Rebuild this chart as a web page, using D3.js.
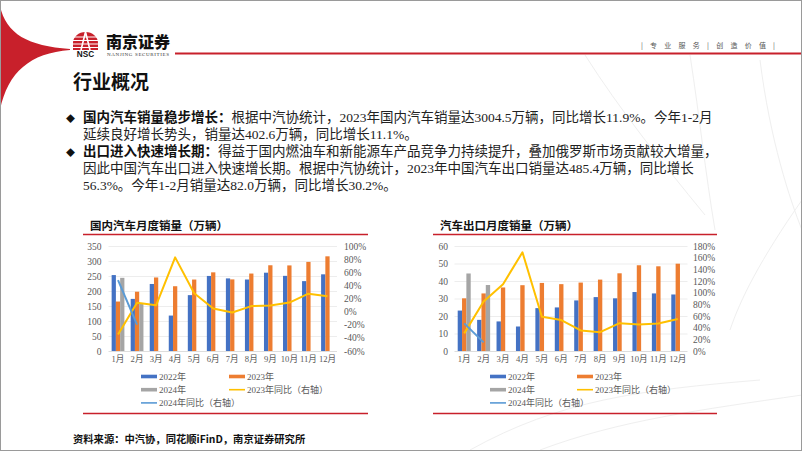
<!DOCTYPE html>
<html><head><meta charset="utf-8">
<script src="https://cdn.jsdelivr.net/npm/d3@7"></script>
<style>body{margin:0;background:#fff}svg{display:block}</style>
</head><body><svg id="c" width="802" height="451"></svg>
<script>
// ---------- data ----------
const months = ["1月","2月","3月","4月","5月","6月","7月","8月","9月","10月","11月","12月"];
const domSales2022 = [253.1,173.7,223.4,118.1,186.2,250.2,242.0,238.3,261.0,250.5,232.9,255.6];
const domSales2023 = [164.9,197.6,245.1,215.9,238.2,262.2,238.7,258.2,285.8,285.3,297.0,315.6];
const domSales2024 = [243.9,158.4];
const domYoY2023 = [-34.8,13.5,9.7,82.7,27.9,4.8,-1.4,8.4,9.5,13.8,27.4,23.5];
const domYoY2024 = [47.9,-19.9];
const expSales2022 = [23.1,17.8,16.9,14.0,24.5,24.9,28.9,30.8,30.1,33.7,32.9,32.3];
const expSales2023 = [30.1,32.9,36.3,37.6,38.9,38.2,39.1,40.8,44.4,49.0,48.4,49.9];
const expSales2024 = [44.3,37.7];
const expYoY2023 = [30.2,84.8,114.6,169.2,58.8,53.1,35.3,32.2,47.7,45.5,47.2,54.8];
const expYoY2024 = [47.4,14.8];
const domLeftTicks = [0,50,100,150,200,250,300,350];
const domRightTicks = [-60,-40,-20,0,20,40,60,80,100];
const expLeftTicks = [0,10,20,30,40,50,60];
const expRightTicks = [0,20,40,60,80,100,120,140,160,180];
const legendLabels = ["2022年","2023年","2024年","2023年同比（右轴）","2024年同比（右轴）"];

const RED = "#C8202B";
const C22 = "#4472C4", C23 = "#ED7D31", C24 = "#A5A5A5", CY = "#FFC000", CB = "#5B9BD5";
const FONT = "'Liberation Serif','Noto Sans CJK SC',serif";
const CJK = "'Noto Sans CJK SC','Liberation Serif',sans-serif";

const svg = d3.select("#c");

// ---------- background decor ----------
const deco = svg.append("g").attr("fill","none").attr("stroke","#efefef").attr("stroke-width",1);
deco.append("path").attr("d","M585,55 C620,110 660,160 705,215");
deco.append("path").attr("d","M690,55 C700,120 705,170 715,230");
deco.append("path").attr("d","M760,60 C770,140 790,200 802,230");
deco.append("path").attr("d","M470,450 C560,400 640,390 760,380");
deco.append("path").attr("d","M540,450 C620,420 700,410 802,395");
deco.append("path").attr("d","M802,200 C760,260 740,300 730,330");

// ---------- header ----------
svg.append("path").attr("fill",RED)
  .attr("d","M0,6 C6,34 28,46 70,49 L70,50 C30,53 8,72 0,110 Z");
svg.append("line").attr("x1",175).attr("x2",802).attr("y1",53.5).attr("y2",53.5)
  .attr("stroke",RED).attr("stroke-width",2.2);
const logo = svg.append("g");
logo.append("path").attr("fill",RED).attr("d","M73,50 L73,43 A12.5,11 0 0 1 98,43 L98,50 Z");
[37,40.5,44,47.5].forEach(yy=>logo.append("line").attr("x1",72).attr("x2",99).attr("y1",yy).attr("y2",yy).attr("stroke","#fff").attr("stroke-width",1));
logo.append("path").attr("d","M81,50 C83,42 84.5,36 85.5,32 C86.5,36 88,42 90,50").attr("fill","none").attr("stroke","#fff").attr("stroke-width",1.6);
svg.append("text").attr("x",85.5).attr("y",57).attr("text-anchor","middle")
  .attr("font-family","'Liberation Sans',sans-serif").attr("font-weight",700).attr("font-size",8.2).attr("fill","#111").text("NSC");
svg.append("text").attr("x",106).attr("y",47.5).attr("font-family",CJK).attr("font-weight",900)
  .attr("font-size",16).attr("fill","#111").attr("textLength",64).text("南京证券");
svg.append("text").attr("x",107).attr("y",56).attr("font-family","'Liberation Serif',serif")
  .attr("font-size",5).attr("fill","#333").attr("textLength",62).text("NANJING SECURITIES");
svg.append("text").attr("x",641).attr("y",48).attr("font-family",CJK).attr("font-size",7)
  .attr("fill","#555").attr("textLength",134).attr("lengthAdjust","spacing").text("| 专 业 服 务 | 创 造 价 值 |");

svg.append("text").attr("x",73).attr("y",89).attr("font-family",CJK).attr("font-weight",700)
  .attr("font-size",19).attr("fill","#111").text("行业概况");

// ---------- body text ----------
const lines = [
  {y:122, bullet:true, bold:"国内汽车销量稳步增长：", text:"根据中汽协统计，2023年国内汽车销量达3004.5万辆，同比增长11.9%。今年1-2月"},
  {y:139, text:"延续良好增长势头，销量达402.6万辆，同比增长11.1%。"},
  {y:156, bullet:true, bold:"出口进入快速增长期：", text:"得益于国内燃油车和新能源车产品竞争力持续提升，叠加俄罗斯市场贡献较大增量，"},
  {y:173, text:"因此中国汽车出口进入快速增长期。根据中汽协统计，2023年中国汽车出口销量达485.4万辆，同比增长"},
  {y:190, text:"56.3%。今年1-2月销量达82.0万辆，同比增长30.2%。"}
];
lines.forEach(l=>{
  if(l.bullet) svg.append("text").attr("x",66).attr("y",l.y-0.5).attr("font-family",FONT).attr("font-size",9).attr("fill","#111").text("◆");
  const t = svg.append("text").attr("x",83).attr("y",l.y).attr("font-family",FONT).attr("font-size",13.5).attr("fill","#222");
  if(l.bold) t.append("tspan").attr("font-weight",700).attr("fill","#111").text(l.bold);
  t.append("tspan").text(l.text);
});

// ---------- charts ----------
function drawChart(o){
  const g = svg.append("g");
  const top = 246, bot = 351;
  g.append("text").attr("x",o.titleX).attr("y",230).attr("font-family",CJK).attr("font-weight",700)
    .attr("font-size",11.5).attr("fill","#111").text(o.title);
  g.append("line").attr("x1",o.ruleX0).attr("x2",o.ruleX1).attr("y1",234.5).attr("y2",234.5).attr("stroke",RED).attr("stroke-width",1.6);
  g.append("line").attr("x1",o.ruleX0).attr("x2",o.ruleX1).attr("y1",413.5).attr("y2",413.5).attr("stroke",RED).attr("stroke-width",1.6);

  const x = d3.scaleBand().domain(months).range([o.x0,o.x1]).paddingInner(0.33).paddingOuter(0.165);
  const xs = d3.scaleBand().domain(["s22","s23","s24"]).range([0,x.bandwidth()]);
  const yL = d3.scaleLinear().domain([o.lTicks[0],o.lTicks[o.lTicks.length-1]]).range([bot,top]);
  const yR = d3.scaleLinear().domain([o.rTicks[0],o.rTicks[o.rTicks.length-1]]).range([bot,top]);

  const ga = g.append("g").attr("transform",`translate(${o.x0},0)`)
    .call(d3.axisLeft(yL).tickValues(o.lTicks).tickSize(-(o.x1-o.x0)).tickPadding(o.lPad).tickFormat(d3.format("d")));
  ga.select(".domain").remove();
  ga.selectAll(".tick line").attr("stroke",d=>d===o.lTicks[0]?"#d4d4d4":"#e8e8e8").attr("stroke-width",0.8);
  ga.selectAll("text").attr("font-family",FONT).attr("font-size",9.5).attr("fill","#595959");
  const gr = g.append("g").attr("transform",`translate(${o.x1},0)`)
    .call(d3.axisRight(yR).tickValues(o.rTicks).tickSize(0).tickPadding(o.rPad).tickFormat(d=>d+"%"));
  gr.select(".domain").remove();
  gr.selectAll("text").attr("font-family",FONT).attr("font-size",9.5).attr("fill","#595959");
  const gb = g.append("g").attr("transform",`translate(0,${bot})`)
    .call(d3.axisBottom(x).tickSize(0).tickPadding(5));
  gb.select(".domain").remove();
  gb.selectAll("text").attr("font-family",FONT).attr("font-size",8.6).attr("fill","#595959");

  const series = [{k:"s22",v:o.s22,c:C22},{k:"s23",v:o.s23,c:C23},{k:"s24",v:o.s24,c:C24}];
  series.forEach(s=>{
    g.append("g").selectAll("rect").data(s.v).join("rect")
      .attr("x",(d,i)=>x(months[i])+xs(s.k)).attr("width",xs.bandwidth())
      .attr("y",d=>yL(d)).attr("height",d=>yL(0)-yL(d)).attr("fill",s.c);
  });
  const line = d3.line().x((d,i)=>x(months[i])+x.bandwidth()/2).y(d=>yR(d));
  g.append("path").datum(o.y23).attr("d",line).attr("fill","none").attr("stroke",CY).attr("stroke-width",2).attr("stroke-linejoin","round");
  g.append("path").datum(o.y24).attr("d",line).attr("fill","none").attr("stroke",CB).attr("stroke-width",2).attr("stroke-linejoin","round");

  const items = [
    {lab:legendLabels[0],c:C22,bar:true,col:0,row:0},
    {lab:legendLabels[1],c:C23,bar:true,col:1,row:0},
    {lab:legendLabels[2],c:C24,bar:true,col:0,row:1},
    {lab:legendLabels[3],c:CY,bar:false,col:1,row:1},
    {lab:legendLabels[4],c:CB,bar:false,col:0,row:2}
  ];
  const lg = g.append("g");
  items.forEach(it=>{
    const lx = o.legX[it.col], ly = 376.5 + it.row*13.2;
    lg.append("rect").attr("x",lx).attr("y",ly-(it.bar?1.8:0.8)).attr("width",16).attr("height",it.bar?3.6:1.6).attr("fill",it.c);
    lg.append("text").attr("x",lx+18).attr("y",ly+3.3).attr("font-family",FONT).attr("font-size",9).attr("fill","#595959").text(it.lab);
  });
}

drawChart({title:"国内汽车月度销量（万辆）", titleX:90, ruleX0:83, ruleX1:368,
  x0:108.5, x1:337, lTicks:domLeftTicks, rTicks:domRightTicks, lPad:7, rPad:7,
  s22:domSales2022, s23:domSales2023, s24:domSales2024, y23:domYoY2023, y24:domYoY2024,
  legX:[141,229]});
drawChart({title:"汽车出口月度销量（万辆）", titleX:440, ruleX0:433, ruleX1:717,
  x0:454.5, x1:687.5, lTicks:expLeftTicks, rTicks:expRightTicks, lPad:6.5, rPad:5.5,
  s22:expSales2022, s23:expSales2023, s24:expSales2024, y23:expYoY2023, y24:expYoY2024,
  legX:[490,577]});

svg.append("text").attr("x",73).attr("y",443).attr("font-family",CJK).attr("font-weight",700)
  .attr("font-size",10.3).attr("fill","#111").text("资料来源：中汽协，同花顺iFinD，南京证券研究所");

svg.append("rect").attr("x",0.5).attr("y",0.5).attr("width",801).attr("height",450).attr("fill","none").attr("stroke","#9a9a9a").attr("stroke-width",1);
</script></body></html>
